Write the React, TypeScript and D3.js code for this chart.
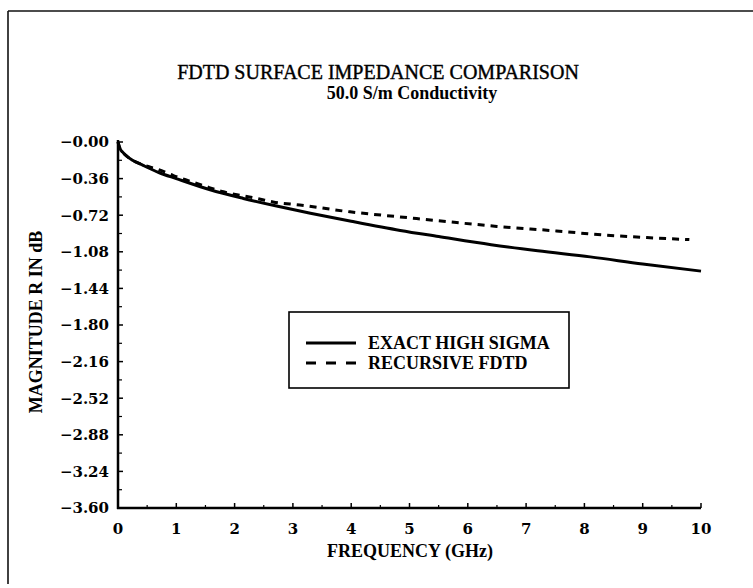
import React from "react";
import * as d3 from "d3";

const W = 753;
const H = 588;

const titleText = "FDTD SURFACE IMPEDANCE COMPARISON";
const subtitleText = "50.0 S/m Conductivity";
const xTitle = "FREQUENCY (GHz)";
const yTitle = "MAGNITUDE R IN dB";

const xTicks = [0, 1, 2, 3, 4, 5, 6, 7, 8, 9, 10];
const yTicks = [0, -0.36, -0.72, -1.08, -1.44, -1.8, -2.16, -2.52, -2.88, -3.24, -3.6];
const yTickLabels = ["−0.00", "−0.36", "−0.72", "−1.08", "−1.44", "−1.80", "−2.16", "−2.52", "−2.88", "−3.24", "−3.60"];

const exactF = [0, 0.03, 0.08, 0.15, 0.25, 0.43, 0.7, 1.0, 1.58, 2.15, 2.72, 3.3, 4.0, 4.84, 5.5, 6.4, 7.2, 8.1, 9.0, 10];
const exactV = [0, -0.06, -0.1, -0.14, -0.18, -0.23, -0.3, -0.36, -0.47, -0.555, -0.63, -0.7, -0.78, -0.87, -0.93, -1.01, -1.07, -1.13, -1.2, -1.27];

const recF = [0, 0.03, 0.08, 0.15, 0.25, 0.43, 0.69, 0.95, 1.23, 1.52, 1.81, 2.15, 2.38, 2.66, 3.12, 3.98, 4.84, 5.69, 6.5, 7.52, 8.38, 9.07, 9.8];
const recV = [0, -0.06, -0.1, -0.14, -0.18, -0.225, -0.27, -0.33, -0.385, -0.44, -0.49, -0.53, -0.555, -0.59, -0.62, -0.687, -0.737, -0.786, -0.83, -0.875, -0.917, -0.94, -0.96];

const legendLabels = ["EXACT HIGH SIGMA", "RECURSIVE FDTD"];

export default function App() {
  const left = 118, right = 701, top = 142, bottom = 508;
  const x = d3.scaleLinear().domain([0, 10]).range([left, right]);
  const y = d3.scaleLinear().domain([-3.6, 0]).range([bottom, top]);

  const line = d3
    .line<[number, number]>()
    .x((d) => x(d[0]))
    .y((d) => y(d[1]))
    .curve(d3.curveMonotoneX);

  const exactPts: [number, number][] = exactF.map((f, i) => [f, exactV[i]]);
  const recPts: [number, number][] = recF.map((f, i) => [f, recV[i]]);

  const minorY = d3.range(0, 20).map((i) => -0.18 - i * 0.36).filter((v) => v > -3.6);
  const minorX = d3.range(0, 10).map((i) => i + 0.5);

  const tickFont = "'DejaVu Serif', serif";
  const textFont = "'Liberation Serif', 'Times New Roman', serif";

  return (
    <svg
      width={W}
      height={H}
      style={{ position: "absolute", left: 0, top: 0, background: "#fff" }}
    >
      <rect x={0} y={0} width={W} height={H} fill="#fff" />
      {/* outer frame */}
      <line x1={8} y1={11} x2={W} y2={11} stroke="#111" strokeWidth={1.6} />
      <line x1={8} y1={11} x2={8} y2={584} stroke="#111" strokeWidth={1.6} />

      {/* titles */}
      <text
        x={378}
        y={79}
        textAnchor="middle"
        fontFamily={textFont}
        fontSize={20}
        stroke="#000"
        strokeWidth={0.4}
        fill="#000"
      >
        {titleText}
      </text>
      <text
        x={412}
        y={99}
        textAnchor="middle"
        fontFamily={textFont}
        fontWeight="bold"
        fontSize={18}
        fill="#000"
      >
        {subtitleText}
      </text>

      {/* axes */}
      <line x1={left} y1={top - 2} x2={left} y2={bottom + 1} stroke="#000" strokeWidth={2.5} />
      <line x1={left - 1} y1={bottom} x2={right} y2={bottom} stroke="#000" strokeWidth={2.5} />

      {yTicks.map((v, i) => (
        <g key={"yt" + i}>
          <line x1={left} x2={left + 5} y1={y(v)} y2={y(v)} stroke="#000" strokeWidth={1.5} />
          <text
            x={109}
            y={y(v)}
            dy="0.36em"
            textAnchor="end"
            fontFamily={tickFont}
            fontWeight="bold"
            fontSize={15}
            fill="#000"
          >
            {yTickLabels[i]}
          </text>
        </g>
      ))}
      {minorY.map((v, i) => (
        <line key={"ym" + i} x1={left} x2={left + 4} y1={y(v)} y2={y(v)} stroke="#000" strokeWidth={1.2} />
      ))}

      {xTicks.map((v, i) => (
        <g key={"xt" + i}>
          <line x1={x(v)} x2={x(v)} y1={bottom} y2={bottom - 5} stroke="#000" strokeWidth={1.5} />
          <text
            x={x(v)}
            y={534}
            textAnchor="middle"
            fontFamily={tickFont}
            fontWeight="bold"
            fontSize={15}
            fill="#000"
          >
            {String(v)}
          </text>
        </g>
      ))}
      {minorX.map((v, i) => (
        <line key={"xm" + i} x1={x(v)} x2={x(v)} y1={bottom} y2={bottom - 3} stroke="#000" strokeWidth={1.2} />
      ))}

      <text
        x={410}
        y={557}
        textAnchor="middle"
        fontFamily={textFont}
        fontWeight="bold"
        fontSize={18}
        fill="#000"
      >
        {xTitle}
      </text>
      <text
        transform={`translate(42,322) rotate(-90)`}
        textAnchor="middle"
        fontFamily={textFont}
        fontWeight="bold"
        fontSize={18}
        fill="#000"
      >
        {yTitle}
      </text>

      {/* curves */}
      <path d={line(recPts) || ""} fill="none" stroke="#000" strokeWidth={3} strokeDasharray="7,6" />
      <path d={line(exactPts) || ""} fill="none" stroke="#000" strokeWidth={3} />

      {/* legend */}
      <rect x={289} y={312} width={280} height={76} fill="#fff" stroke="#000" strokeWidth={1.6} />
      <line x1={306} x2={356} y1={343} y2={343} stroke="#000" strokeWidth={3} />
      <line x1={306} x2={356} y1={363} y2={363} stroke="#000" strokeWidth={3} strokeDasharray="10,10" />
      {legendLabels.map((t, i) => (
        <text
          key={t}
          x={368}
          y={343 + i * 20}
          dy="0.35em"
          fontFamily={textFont}
          fontWeight="bold"
          fontSize={18}
          fill="#000"
        >
          {t}
        </text>
      ))}
    </svg>
  );
}
